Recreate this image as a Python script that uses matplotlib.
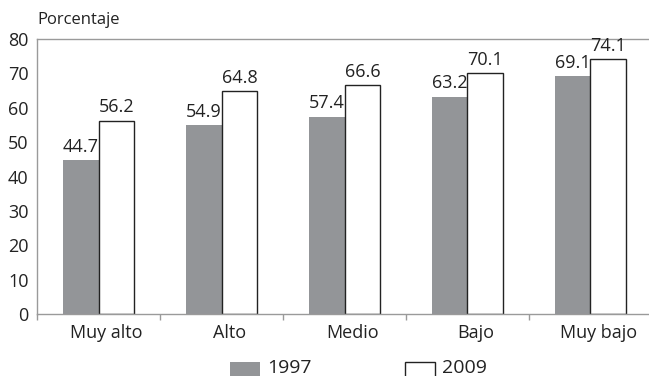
import matplotlib
matplotlib.use("Agg")
import matplotlib.pyplot as plt
import matplotlib.transforms as mtransforms
import numpy as np
from matplotlib.patches import Rectangle

categories = ["Muy alto", "Alto", "Medio", "Bajo", "Muy bajo"]
values_1997 = [44.7, 54.9, 57.4, 63.2, 69.1]
values_2009 = [56.2, 64.8, 66.6, 70.1, 74.1]
series_labels = ["1997", "2009"]
yticks = [0, 10, 20, 30, 40, 50, 60, 70, 80]

plt.rcParams["font.family"] = ["Open Sans", "DejaVu Sans"]

W, H = 649, 376
fig = plt.figure(figsize=(W / 100, H / 100), dpi=100)
left, right, top, bottom = 37, 652, 39, 314
ax = fig.add_axes([left / W, 1 - bottom / H, (right - left) / W, (bottom - top) / H])

x = np.arange(len(categories))
bw = 0.29
gray = "#939598"
ink = "#222222"
ax.bar(x - bw / 2, values_1997, bw, color=gray, edgecolor="none", zorder=2)
ax.bar(x + bw / 2, values_2009, bw, color="white", edgecolor=ink, linewidth=1.0, zorder=2)

fs = 13
for xi, v in zip(x, values_1997):
    ax.text(xi - bw / 2, v + 1.3, f"{v:.1f}", ha="center", va="bottom", fontsize=fs, color=ink)
for xi, v in zip(x, values_2009):
    ax.text(xi + bw / 2, v + 1.3, f"{v:.1f}", ha="center", va="bottom", fontsize=fs, color=ink)

ax.set_xlim(-0.5, len(categories) - 0.5)
ax.set_ylim(0, 80)
ax.set_yticks(yticks)
ax.set_yticklabels([str(t) for t in yticks], fontsize=fs, color=ink)
ax.tick_params(axis="y", length=0, pad=6)

# category boundaries carry the tick marks, names sit between them
ax.set_xticks(np.arange(len(categories) + 1) - 0.5)
ax.set_xticklabels([])
ax.tick_params(axis="x", length=4, color="#9a9a9a", width=1)
ax.set_xticks(x, minor=True)
ax.set_xticklabels(categories, minor=True, fontsize=fs, color=ink)
ax.tick_params(axis="x", which="minor", length=0, pad=7)
shift = mtransforms.ScaledTranslation(8 / 100, 0, fig.dpi_scale_trans)
for lab in ax.get_xticklabels(minor=True):
    lab.set_transform(lab.get_transform() + shift)

for s in ax.spines.values():
    s.set_color("#9a9a9a")
    s.set_linewidth(1.0)

fig.text(37 / W, 1 - 20 / H, "Porcentaje", ha="left", va="center", fontsize=12, color=ink)

# legend keys and labels
keys = [(230, gray, "none"), (405, "white", ink)]
for (kx, fc, ec), lab in zip(keys, series_labels):
    fig.patches.append(Rectangle((kx / W, 1 - 377 / H), 30 / W, 15 / H, transform=fig.transFigure,
                                 facecolor=fc, edgecolor=ec, linewidth=1.0))
    fig.text((kx + 37) / W, 1 - 368 / H, lab, ha="left", va="center", fontsize=14, color=ink)

fig.savefig("out.png", dpi=100)
